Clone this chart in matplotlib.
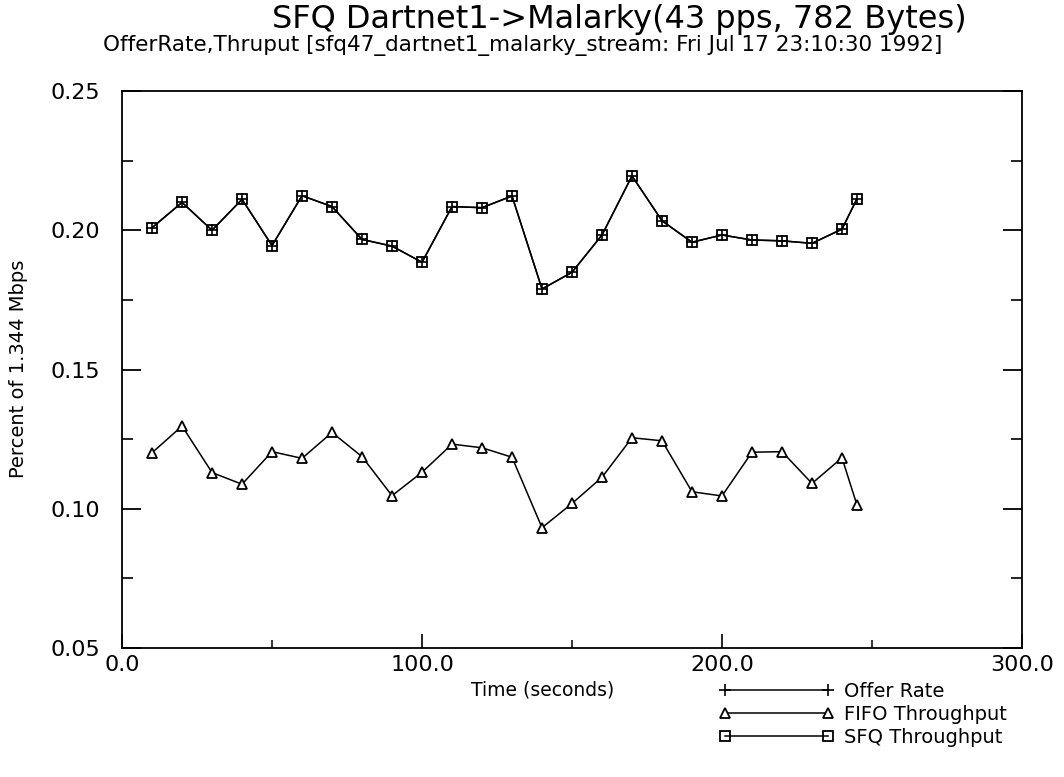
import numpy as np
import matplotlib
matplotlib.use('Agg')
import matplotlib.pyplot as plt
from matplotlib.ticker import MultipleLocator, FormatStrFormatter

# Daten
zeit = [10, 20, 30, 40, 50, 60, 70, 80, 90, 100, 110, 120, 130,
        140, 150, 160, 170, 180, 190, 200, 210, 220, 230, 240, 245]
sfq = [0.2009, 0.2100, 0.2000, 0.2111, 0.1945, 0.2124, 0.2085, 0.1967,
       0.1943, 0.1885, 0.2085, 0.2081, 0.2123, 0.1789, 0.1849, 0.1983,
       0.2195, 0.2034, 0.1957, 0.1983, 0.1965, 0.1962, 0.1953, 0.2004,
       0.2113]
fifo = [0.1201, 0.1297, 0.1130, 0.1088, 0.1205, 0.1181, 0.1274, 0.1187,
        0.1047, 0.1131, 0.1232, 0.1219, 0.1185, 0.0932, 0.1019, 0.1113,
        0.1255, 0.1244, 0.1061, 0.1046, 0.1203, 0.1205, 0.1091, 0.1183,
        0.1013]
# Offer Rate liegt im Bild genau auf der SFQ-Kurve
offer = list(sfq)

fig = plt.figure(figsize=(10.64, 7.77), dpi=100)
ax = fig.add_axes([0.1147, 0.166, 0.8458, 0.7169])

lw = 1.1
ax.plot(zeit, offer, color='black', lw=lw, marker='+', ms=8, mew=1.2,
        label='Offer Rate')
ax.plot(zeit, fifo, color='black', lw=lw, marker='^', ms=7, mew=1.3,
        mfc='white', label='FIFO Throughput')
ax.plot(zeit, sfq, color='black', lw=lw, marker='s', ms=6.5, mew=1.3,
        mfc='none', label='SFQ Throughput')

ax.set_xlim(0, 300)
ax.set_ylim(0.05, 0.25)
ax.xaxis.set_major_locator(MultipleLocator(100))
ax.xaxis.set_minor_locator(MultipleLocator(50))
ax.yaxis.set_major_locator(MultipleLocator(0.05))
ax.yaxis.set_minor_locator(MultipleLocator(0.025))
ax.xaxis.set_major_formatter(FormatStrFormatter('%.1f'))
ax.yaxis.set_major_formatter(FormatStrFormatter('%.2f'))

ax.tick_params(axis='y', which='both', direction='in', left=True, right=True)
ax.tick_params(axis='y', which='major', length=14, width=1.3, labelsize=16, pad=16)
ax.tick_params(axis='y', which='minor', length=8, width=1.2)
ax.tick_params(axis='x', which='both', direction='in', bottom=True, top=False)
ax.tick_params(axis='x', which='major', length=10, width=1.2, labelsize=16, pad=5)
ax.tick_params(axis='x', which='minor', length=6, width=1.1)
for s in ax.spines.values():
    s.set_linewidth(1.3)

# Beschriftung
fig.text(0.582, 0.975, 'SFQ Dartnet1->Malarky(43 pps, 782 Bytes)',
         ha='center', va='center', fontsize=23)
fig.text(0.097, 0.942,
         'OfferRate,Thruput [sfq47_dartnet1_malarky_stream: Fri Jul 17 23:10:30 1992]',
         ha='left', va='center', fontsize=15.5)
fig.text(0.017, 0.525, 'Percent of 1.344 Mbps', rotation=90,
         ha='center', va='center', fontsize=14)
fig.text(0.51, 0.112, 'Time (seconds)', ha='center', va='center', fontsize=13.5)

ax.legend(loc='upper left', bbox_to_anchor=(0.667, 0.135),
          bbox_transform=fig.transFigure, frameon=False, numpoints=2,
          handlelength=5.9, handletextpad=0.5, labelspacing=0.2,
          fontsize=14, borderpad=0)

plt.savefig('out.png', dpi=100)
